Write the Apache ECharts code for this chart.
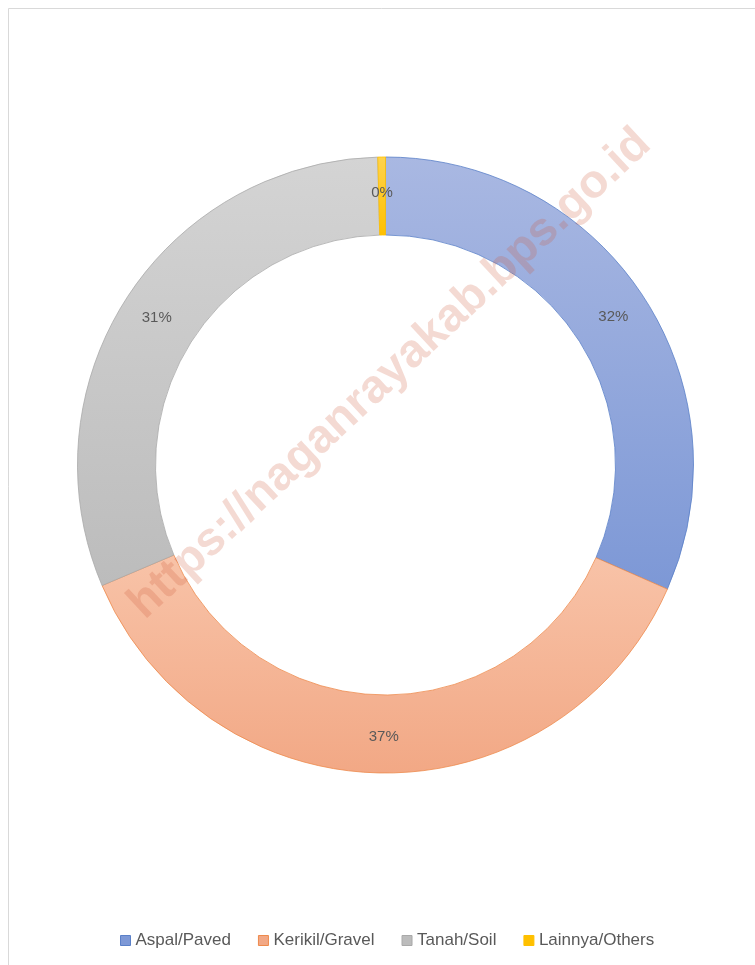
<!DOCTYPE html>
<html>
<head>
<meta charset="utf-8">
<script src="https://cdn.jsdelivr.net/npm/echarts@6/dist/echarts.min.js"></script>
<style>
html,body{margin:0;padding:0;background:#fff;}
#main{width:755px;height:965px;}
</style>
</head>
<body>
<div id="main"></div>
<script>
var categories = ['Aspal/Paved', 'Kerikil/Gravel', 'Tanah/Soil', 'Lainnya/Others'];
var values = [31.6, 37.0, 31.0, 0.4];
var watermarkText = 'https://naganrayakab.bps.go.id';

var fills = [
  ['#a9b8e2', '#7d98d6'],
  ['#f8c3a8', '#f2a885'],
  ['#d4d4d4', '#bcbcbc'],
  ['#ffd34d', '#ffc000']
];
var strokes = ['#5a80c8', '#ee8a4c', '#a9a9a9', '#ffc000'];

var data = categories.map(function (c, i) {
  return {
    name: c,
    value: values[i],
    itemStyle: {
      color: {
        type: 'linear', x: 0, y: 0, x2: 0, y2: 1,
        colorStops: [{offset: 0, color: fills[i][0]}, {offset: 1, color: fills[i][1]}]
      },
      borderColor: strokes[i],
      borderWidth: 0.8
    }
  };
});

var chart = echarts.init(document.getElementById('main'));
chart.setOption({
  backgroundColor: '#ffffff',
  animation: false,
  legend: {
    bottom: 11,
    left: 115,
    itemWidth: 10,
    itemHeight: 10,
    itemGap: 27,
    icon: 'rect',
    textStyle: {color: '#595959', fontSize: 17, fontFamily: 'Liberation Sans'},
    data: categories.map(function (c, i) {
      return {name: c, itemStyle: {color: fills[i][1], borderColor: strokes[i], borderWidth: 1}};
    })
  },
  series: [{
    type: 'pie',
    center: [385.5, 465],
    radius: [230, 308],
    startAngle: 90,
    clockwise: true,
    avoidLabelOverlap: false,
    emphasis: {disabled: true},
    label: {
      show: true,
      position: 'inside',
      color: '#595959',
      fontSize: 15,
      fontFamily: 'Liberation Sans',
      formatter: function (p) { return Math.round(p.percent) + '%'; }
    },
    labelLine: {show: false},
    data: data
  }],
  graphic: [
    {
      type: 'polyline',
      silent: true,
      shape: {points: [[8.5, 965], [8.5, 8.5], [755, 8.5]]},
      style: {stroke: '#d9d9d9', lineWidth: 1, fill: null},
      z: 100
    },
    {
      type: 'text',
      silent: true,
      x: 390,
      y: 374,
      rotation: 43 * Math.PI / 180,
      z: 100,
      style: {
        text: watermarkText,
        font: 'bold 47px "Liberation Sans"',
        fill: 'rgba(205, 85, 55, 0.22)',
        align: 'center',
        verticalAlign: 'middle'
      }
    }
  ]
});
</script>
</body>
</html>
